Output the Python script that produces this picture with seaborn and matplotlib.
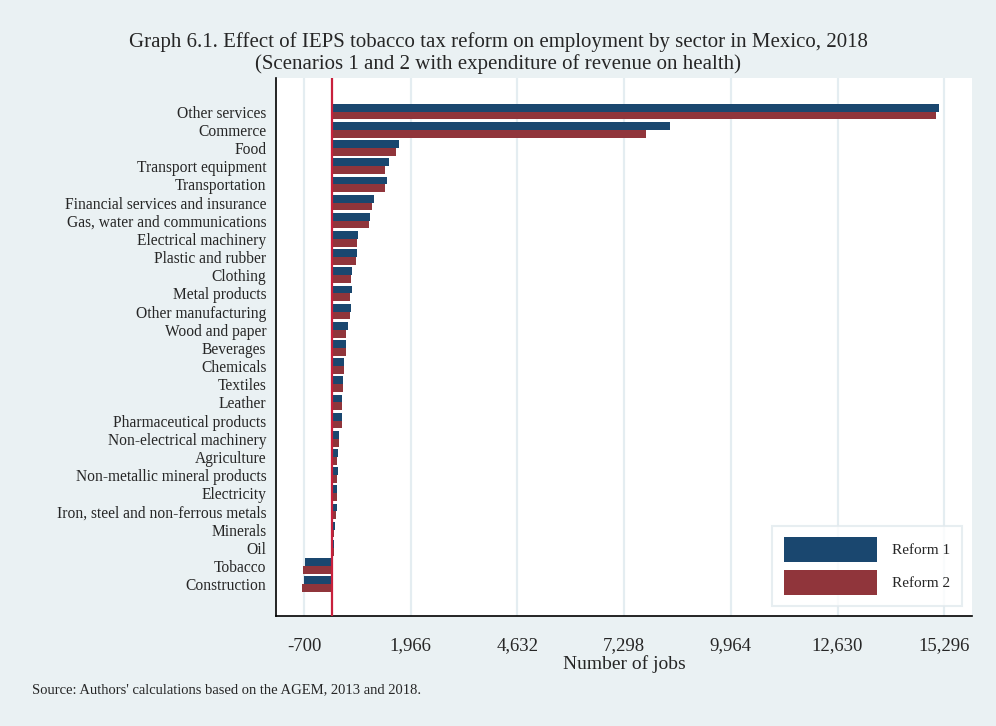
import matplotlib
matplotlib.use("Agg")
import matplotlib.pyplot as plt
import seaborn as sns
import pandas as pd

sectors = ["Other services", "Commerce", "Food", "Transport equipment", "Transportation",
           "Financial services and insurance", "Gas, water and communications",
           "Electrical machinery", "Plastic and rubber", "Clothing", "Metal products",
           "Other manufacturing", "Wood and paper", "Beverages", "Chemicals", "Textiles",
           "Leather", "Pharmaceutical products", "Non-electrical machinery", "Agriculture",
           "Non-metallic mineral products", "Electricity", "Iron, steel and non-ferrous metals",
           "Minerals", "Oil", "Tobacco", "Construction"]

reform1 = [15170, 8440, 1680, 1425, 1385, 1040, 958, 650, 617, 508, 490, 483, 392, 358,
           308, 283, 258, 250, 183, 158, 150, 133, 117, 67, 45, -675, -700]
reform2 = [15080, 7840, 1600, 1333, 1317, 1000, 917, 625, 592, 483, 458, 450, 358, 342,
           292, 267, 250, 242, 167, 133, 125, 125, 92, 58, 38, -717, -758]
series_names = ["Reform 1", "Reform 2"]
xtick_values = [-700, 1966, 4632, 7298, 9964, 12630, 15296]
xtick_labels = ["-700", "1,966", "4,632", "7,298", "9,964", "12,630", "15,296"]

df = pd.DataFrame({
    "sector": sectors * 2,
    "value": reform1 + reform2,
    "reform": [series_names[0]] * len(sectors) + [series_names[1]] * len(sectors),
})

sns.set_theme(style="white")
plt.rcParams["font.family"] = ["Liberation Serif", "DejaVu Serif"]

bg = "#EAF1F3"
fig = plt.figure(figsize=(9.96, 7.26), dpi=100, facecolor=bg)
# axes: x 276..972 px, y 78..616 px
ax = fig.add_axes([276 / 996, (726 - 616) / 726, (972 - 276) / 996, (616 - 78) / 726])
ax.set_facecolor("white")

for v in xtick_values:
    ax.axvline(v, color="#E4EDF1", lw=1.6, zorder=0)

sns.barplot(data=df, y="sector", x="value", hue="reform", orient="h",
            palette=["#1A476F", "#90353B"], width=0.86, gap=0, ax=ax,
            errorbar=None, saturation=1, zorder=2, order=sectors, linewidth=0)

ax.axvline(0, color="#C8203C", lw=1.6, zorder=3)

ax.set_xlim(-1400, 15990)
n = len(sectors)
ax.set_ylim(n - 1 + 1.75, -1.85)

ax.set_xticks(xtick_values)
ax.set_xticklabels(xtick_labels, fontsize=13.5)
ax.tick_params(axis="x", direction="out", length=8, width=1, color="black", pad=7.5)
ax.tick_params(axis="y", length=0, pad=7, labelsize=11.2)
ax.set_ylabel("")
ax.set_xlabel("Number of jobs", fontsize=14)
ax.xaxis.label.set_va("center")
ax.xaxis.set_label_coords(0.5, -(664 - 616) / (616 - 78))

for s in ["top", "right"]:
    ax.spines[s].set_visible(False)
for s in ["left", "bottom"]:
    ax.spines[s].set_color("black")
    ax.spines[s].set_linewidth(1.2)

handles, labels = ax.get_legend_handles_labels()
leg = ax.legend(handles, labels, loc="lower right", bbox_to_anchor=(0.985, 0.018),
                fontsize=11, handlelength=6.1, handleheight=2.1, labelspacing=0.55,
                handletextpad=1.0, borderpad=0.75, frameon=True, fancybox=False,
                borderaxespad=0)
leg.get_frame().set_edgecolor("#E2EAEE")
leg.get_frame().set_linewidth(1.5)

fig.text(0.5, 1 - 42 / 726, "Graph 6.1. Effect of IEPS tobacco tax reform on employment by sector in Mexico, 2018",
         ha="center", va="center", fontsize=15)
fig.text(0.5, 1 - 64 / 726, "(Scenarios 1 and 2 with expenditure of revenue on health)",
         ha="center", va="center", fontsize=15)
fig.text(0.032, 1 - 690 / 726, "Source: Authors' calculations based on the AGEM, 2013 and 2018.",
         ha="left", va="center", fontsize=10.5)

fig.savefig("out.png", dpi=100, facecolor=bg)
